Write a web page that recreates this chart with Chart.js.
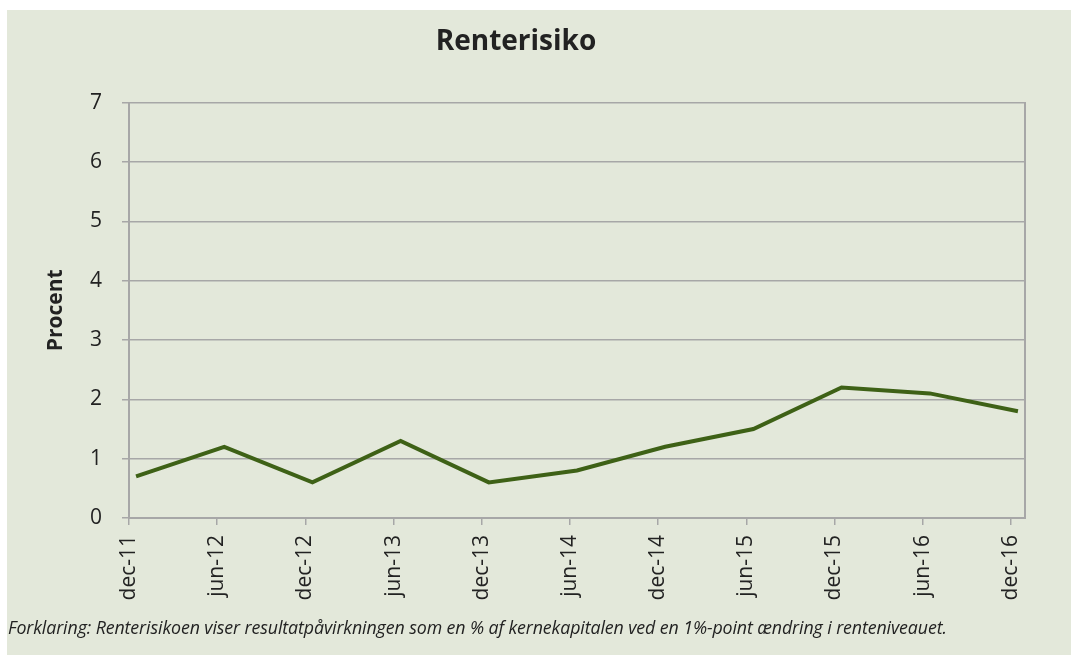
<!DOCTYPE html>
<html><head><meta charset="utf-8">
<script src="https://cdn.jsdelivr.net/npm/chart.js@4.4.1/dist/chart.umd.min.js"></script>
<style>
html,body{margin:0;padding:0;background:#fff;width:1071px;height:655px;overflow:hidden}
#panel{position:absolute;left:7px;top:10px;width:1064px;height:645px;background:#e3e8da}
#c{position:absolute;left:0;top:0}
#note{position:absolute;left:1px;top:605px;font:italic 17.8px "Open Sans";color:#222;white-space:nowrap;letter-spacing:-0.1px}
</style></head><body>
<div id="panel"><canvas id="c" width="1064" height="645"></canvas>
<div id="note">Forklaring: Renterisikoen viser resultatpåvirkningen som en % af kernekapitalen ved en 1%-point ændring i renteniveauet.</div></div>
<script>
const categories = ['dec-11','jun-12','dec-12','jun-13','dec-13','jun-14','dec-14','jun-15','dec-15','jun-16','dec-16'];
const values = [0.7, 1.2, 0.6, 1.3, 0.6, 0.8, 1.2, 1.5, 2.2, 2.1, 1.8];
const yTickValues = [0,1,2,3,4,5,6,7];
const titleText = 'Renterisiko';
const yTitle = 'Procent';

const pointOffset = 0.08;
const gridColor = '#a7a7a7';
Chart.defaults.font.family = '"Open Sans", sans-serif';
Chart.defaults.color = '#222';

new Chart(document.getElementById('c'), {
  type: 'line',
  data: {
    datasets: [{
      data: values.map((v, i) => ({x: i + pointOffset, y: v})),
      borderColor: '#3e6116',
      borderWidth: 4,
      pointRadius: 0,
      tension: 0,
      fill: false,
      clip: false
    }]
  },
  options: {
    responsive: false,
    animation: false,
    layout: {padding: {left: 0, right: 46, top: 0, bottom: 0}},
    plugins: {
      legend: {display: false},
      tooltip: {enabled: false},
      title: {
        display: true, text: titleText,
        font: {size: 28, weight: 'bold'}, color: '#222',
        padding: {top: 15, bottom: 44}
      }
    },
    scales: {
      x: {
        type: 'linear', min: 0, max: 10.16,
        afterBuildTicks: s => { s.ticks = categories.map((_, i) => ({value: i})); },
        afterFit: s => { s.height = 137; },
        ticks: {
          callback: (v, i) => categories[i],
          autoSkip: false, minRotation: 90, maxRotation: 90,
          font: {size: 21}, padding: 10, color: '#222'
        },
        grid: {drawOnChartArea: false, drawTicks: true, tickLength: 7, color: gridColor, lineWidth: 1.5},
        border: {color: gridColor, width: 2}
      },
      y: {
        min: 0, max: 7,
        afterBuildTicks: s => { s.ticks = yTickValues.map(v => ({value: v})); },
        afterFit: s => { s.width = 122; },
        ticks: {font: {size: 21}, padding: 20, color: '#222'},
        grid: {color: gridColor, lineWidth: 1.5, tickLength: 7},
        border: {color: gridColor, width: 2},
        title: {display: true, text: yTitle, font: {size: 21, weight: 'bold'}, color: '#222', padding: {top: 36, bottom: 0}}
      },
      y2: {
        position: 'right', min: 0, max: 7,
        afterFit: s => { s.width = 0; },
        ticks: {display: false},
        grid: {display: false},
        border: {display: true, color: gridColor, width: 2}
      }
    }
  }
});
</script>
</body></html>
